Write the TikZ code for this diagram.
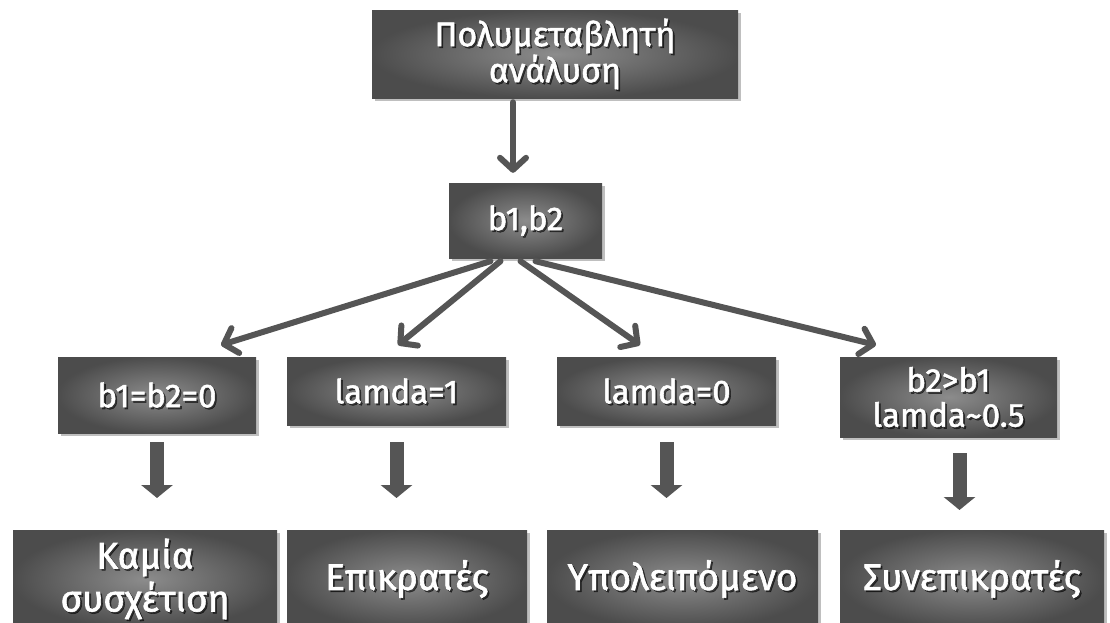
\documentclass[tikz,border=0pt]{standalone}
\usepackage{fontspec}
\setmainfont{Fira Sans}[FakeBold=1.6]
\usetikzlibrary{arrows.meta,shadows,calc}
\definecolor{arrowgray}{HTML}{555555}
\tikzset{
 box/.style={draw=none, inner sep=0pt, shading=radial, inner color=black!45, outer color=black!70,
   drop shadow={shadow xshift=3pt, shadow yshift=-3pt, opacity=.25, fill=black}},
 txt/.style={text=white, align=center, inner sep=0pt},
 txtshadow/.style={text=black, opacity=.55, align=center, inner sep=0pt},
 fanarrow/.style={draw=arrowgray, line width=6pt, line cap=round,
   -{Straight Barb[length=12pt,width=26pt,line cap=round,line join=round]}},
 blockarrow/.style={draw=arrowgray, line width=14pt, -{Triangle[length=13pt,width=31pt]}},
}
\newcommand\mybox[7]{%
 \node[box, minimum width={(#4-#2)*1pt}, minimum height={(#5-#3)*1pt}] (#1) at ({(#2+#4)/2},{(#3+#5)/2}) {};
 \node[txtshadow, font={#6}] (#1s) at ([shift={(1.8pt,-1.8pt)}]#1.center) {#7};
 \node[txt, font={#6}] (#1t) at (#1.center) {#7};
}
\begin{document}
\begin{tikzpicture}[x=1pt,y=-1pt]
\useasboundingbox (0,0) rectangle (1110,622);
% boxes
\mybox{top}{372}{10}{738}{98}{\fontsize{34}{36}\selectfont}{Πολυμεταβλητή\\ανάλυση}
\mybox{b12}{449}{183}{602}{258}{\fontsize{33}{36}\selectfont}{b1,b2}
\mybox{m1}{58}{357}{256}{433}{\fontsize{33}{36}\selectfont}{b1=b2=0}
\mybox{m2}{287}{357}{506}{425}{\fontsize{33}{36}\selectfont}{lamda=1}
\mybox{m3}{557}{357}{776}{425}{\fontsize{33}{36}\selectfont}{lamda=0}
\mybox{m4}{840}{357}{1057}{437}{\fontsize{33}{35}\selectfont}{b2>b1\\lamda\textasciitilde0.5}
\mybox{n1}{13}{530}{277}{628}{\fontsize{37}{43}\selectfont}{Καμία\\συσχέτιση}
\mybox{n2}{287}{530}{527}{628}{\fontsize{37}{43}\selectfont}{Επικρατές}
\mybox{n3}{547}{530}{818}{628}{\fontsize{37}{43}\selectfont}{Υπολειπόμενο}
\mybox{n4}{840}{530}{1104}{628}{\fontsize{37}{43}\selectfont}{Συνεπικρατές}
% top arrow
\coordinate (ta) at ([xshift=-12.5pt,yshift=10pt]b12.north);
\draw[fanarrow] ([yshift=-4pt]ta |- top.south) -- (ta);
% fan arrows
\coordinate (t1) at (221,345);
\coordinate (t2) at (398,345);
\coordinate (t3) at (640,345);
\coordinate (t4) at (876,345);
\draw[fanarrow] ([xshift=-35pt,yshift=-3pt]b12.south) -- (t1);
\draw[fanarrow] ([xshift=-25pt,yshift=-3pt]b12.south) -- (t2);
\draw[fanarrow] ([xshift=-5pt,yshift=-3pt]b12.south) -- (t3);
\draw[fanarrow] ([xshift=10pt,yshift=-3pt]b12.south) -- (t4);
% block arrows
\coordinate (sa) at (0,442);
\coordinate (ea) at (0,498);
\coordinate (sb) at (0,453);
\coordinate (eb) at (0,510);
\coordinate (x4) at ([xshift=11pt]m4.south);
\draw[blockarrow] (m1.south |- sa) -- (m1.south |- ea);
\draw[blockarrow] (m2.south |- sa) -- (m2.south |- ea);
\draw[blockarrow] (m3.south |- sa) -- (m3.south |- ea);
\draw[blockarrow] (x4 |- sb) -- (x4 |- eb);
\end{tikzpicture}
\end{document}
